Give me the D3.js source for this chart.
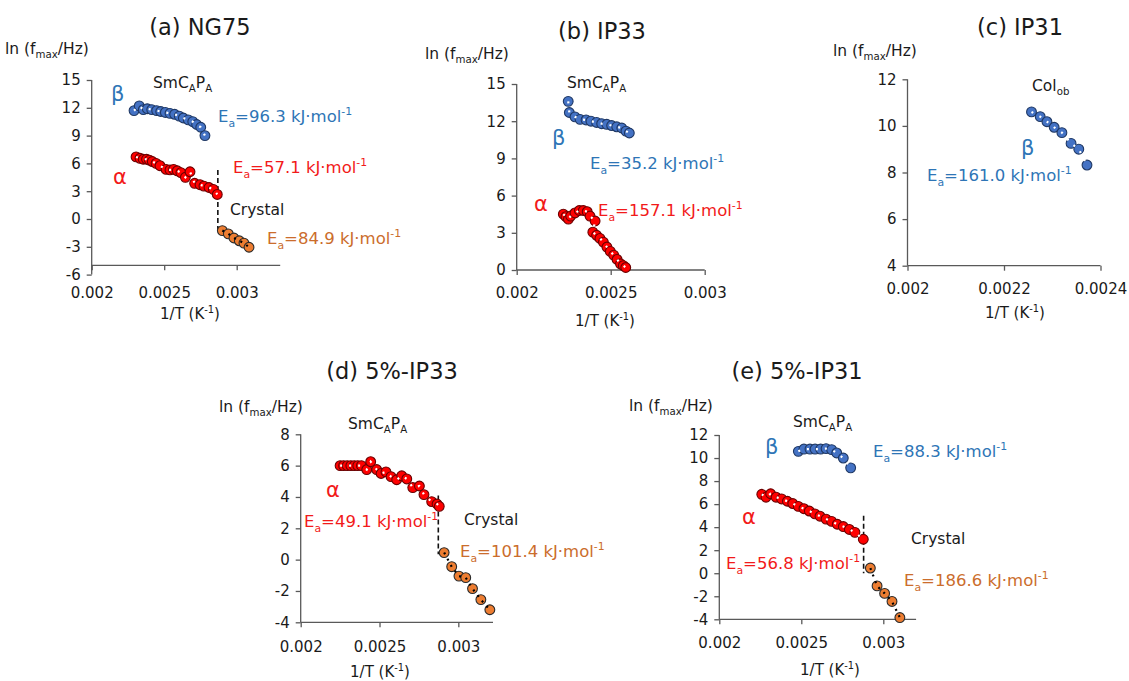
<!DOCTYPE html>
<html><head><meta charset="utf-8">
<script src="https://cdn.jsdelivr.net/npm/d3@7"></script>
<style>body{margin:0;background:#fff} svg{display:block}</style>
</head><body>
<svg id="chart" width="1129" height="681"></svg>
<script>
// ---------- DATA ----------
// (a) NG75
const aBetaX  = [0.002292,0.002328,0.002356,0.002383,0.002414,0.002448,0.002476,0.002508,0.00254,0.002572,0.002604,0.002632,0.002666,0.002697,0.002724,0.002752,0.002781];
const aBetaY  = [11.7,12.2,11.8,11.9,11.8,11.7,11.6,11.5,11.4,11.3,11.1,10.9,10.7,10.5,10.2,9.9,9.0];
const aAlphaX = [0.002306,0.002333,0.002355,0.002378,0.002398,0.002418,0.002444,0.002471,0.002513,0.00254,0.002565,0.00259,0.002615,0.002646,0.002678,0.00271,0.002747,0.002774,0.002809,0.002839,0.002866];
const aAlphaY = [6.7,6.55,6.45,6.45,6.35,6.2,6.0,5.75,5.35,5.3,5.35,5.2,5.0,4.5,5.1,3.85,3.7,3.55,3.4,3.2,2.65];
const aCrysX  = [0.002901,0.002942,0.002981,0.003018,0.00305,0.003085];
const aCrysY  = [-1.25,-1.6,-2.05,-2.35,-2.6,-3.05];
const aTransX = 0.00287, aTransY = [5.3,-1.5];
// (b) IP33
const bBetaX  = [0.002274,0.00228,0.00231,0.002337,0.002369,0.002395,0.002425,0.002452,0.002479,0.002505,0.002532,0.002559,0.002581,0.002599];
const bBetaY  = [13.6,12.7,12.35,12.15,12.1,12.0,11.9,11.8,11.75,11.65,11.55,11.45,11.2,11.05];
const bAlphaX = [0.002248,0.002262,0.002275,0.002287,0.00231,0.002333,0.002354,0.002375,0.00239,0.002417,0.002405,0.002425,0.002443,0.002461,0.00248,0.002498,0.002516,0.002534,0.002552,0.002567,0.00258];
const bAlphaY = [4.5,4.3,4.1,4.35,4.6,4.8,4.8,4.7,4.35,3.95,3.05,2.8,2.55,2.25,1.85,1.5,1.2,0.85,0.5,0.35,0.2];
// (c) IP31
const cBetaX  = [0.002257,0.002275,0.002289,0.002304,0.00232,0.002339,0.002355,0.002372];
const cBetaY  = [10.6,10.4,10.18,9.94,9.71,9.25,9.0,8.32];
// (d) 5%-IP33
const dAlphaX = [0.00225,0.002272,0.002295,0.002318,0.00234,0.002362,0.002385,0.002419,0.002444,0.002482,0.00251,0.002541,0.002573,0.002609,0.002641,0.002673,0.002711,0.002753,0.002782,0.002831,0.002865,0.002879];
const dAlphaY = [6.0,6.0,6.0,6.0,6.0,6.0,6.0,5.75,6.25,5.75,5.5,5.6,5.3,5.1,5.35,5.15,4.6,4.7,4.15,3.7,3.55,3.4];
const dCrysX  = [0.00291,0.002958,0.003004,0.003047,0.00309,0.003143,0.0032];
const dCrysY  = [0.45,-0.45,-1.05,-1.15,-1.85,-2.55,-3.2];
const dTransX = 0.002873, dTransY = [4.1,0.35];
// (e) 5%-IP31
const eBetaX  = [0.002482,0.002516,0.002553,0.002584,0.002618,0.002651,0.002685,0.002716,0.002756,0.002801];
const eBetaY  = [10.58,10.78,10.78,10.78,10.78,10.82,10.73,10.44,10.0,9.15];
const eAlphaX = [0.002259,0.002285,0.002313,0.002346,0.00238,0.002415,0.002448,0.002482,0.002516,0.002549,0.002583,0.002614,0.002651,0.002685,0.002719,0.002756,0.002793,0.002827,0.002878];
const eAlphaY = [6.85,6.6,6.9,6.6,6.45,6.25,6.05,5.8,5.6,5.4,5.15,4.95,4.7,4.5,4.25,4.05,3.8,3.55,2.95];
const eCrysX  = [0.002921,0.002962,0.003008,0.003053,0.003101];
const eCrysY  = [0.45,-1.1,-1.75,-2.45,-3.85];
const eTransX = 0.00288, eTransY = [5.0,0.0];

// ticks
const xTicksStd = [0.002,0.0025,0.003];
const xTickLabelsStd = ["0.002","0.0025","0.003"];
const xTicksC = [0.002,0.0022,0.0024];
const xTickLabelsC = ["0.002","0.0022","0.0024"];
const yTicksA = [-6,-3,0,3,6,9,12,15];
const yTicksB = [0,3,6,9,12,15];
const yTicksC = [4,6,8,10,12];
const yTicksD = [-4,-2,0,2,4,6,8];
const yTicksE = [-4,-2,0,2,4,6,8,10,12];

const titles = ["(a) NG75","(b) IP33","(c) IP31","(d) 5%-IP33","(e) 5%-IP31"];

// ---------- STYLE ----------
const FONT = "'DejaVu Sans', Verdana, sans-serif";
const COL = {
  blue:"#4472C4", blueS:"#1F3864",
  red:"#FF0000", redS:"#6b0000",
  orange:"#ED7D31", orangeS:"#2a2a2a",
  blueT:"#2E75B6", redT:"#F21A1A", orangeT:"#CB6D2C",
  axis:"#595959", text:"#1a1a1a"
};
const svg = d3.select("#chart");

function rich(g, x, cy, parts, size, color, anchor) {
  const t = g.append("text").attr("x", x).attr("y", cy + 0.36*size)
    .attr("font-family", FONT).attr("font-size", size).attr("fill", color)
    .attr("text-anchor", anchor || "start");
  let off = 0;
  parts.forEach(p => {
    const s = Array.isArray(p) ? p[0] : p;
    const kind = Array.isArray(p) ? p[1] : null;
    const target = kind === "sub" ? size*0.28 : kind === "sup" ? -size*0.42 : 0;
    t.append("tspan").attr("dy", target - off)
      .attr("font-size", kind ? size*0.66 : size).text(s);
    off = target;
  });
  return t;
}
const zip = (xs, ys) => xs.map((x,i) => ({x, y: ys[i]}));

const SER = {
  blue:  {fill:COL.blue, stroke:COL.blueS, dot:"#ffffff"},
  red:   {fill:COL.red, stroke:COL.redS, dot:"#ffffff"},
  orange:{fill:COL.orange, stroke:COL.orangeS, dot:"#000000"}
};

const panels = [
  {title:titles[0], tx:200, ty:27, xD:[0.002,0.0033], xR:[91.7,280.2], yD:[-6,15], yR:[274.6,80], xAt:-5, pad:17,
   xT:xTicksStd, xL:xTickLabelsStd, yT:yTicksA,
   series:[[aBetaX,aBetaY,"blue"],[aAlphaX,aAlphaY,"red"],[aCrysX,aCrysY,"orange"]],
   trans:[aTransX,aTransY], lnX:5, lnY:48, axT:[190,314],
   ann:[
     [153,82,[["SmC"],["A","sub"],["P"],["A","sub"]],15.5,COL.text],
     [111,93,["β"],21,COL.blueT],
     [218,116,[["E"],["a","sub"],["=96.3 kJ·mol"],["-1","sup"]],16.5,COL.blueT],
     [113,176,["α"],21,COL.redT],
     [233,167,[["E"],["a","sub"],["=57.1 kJ·mol"],["-1","sup"]],16.5,COL.redT],
     [230,209,["Crystal"],15.5,COL.text],
     [267,238,[["E"],["a","sub"],["=84.9 kJ·mol"],["-1","sup"]],16.5,COL.orangeT]
   ]},
  {title:titles[1], tx:602, ty:31, xD:[0.002,0.003], xR:[516.7,704.7], yD:[0,15], yR:[270,84], xAt:0, pad:12,
   xT:xTicksStd, xL:xTickLabelsStd, yT:yTicksB,
   series:[[bBetaX,bBetaY,"blue"],[bAlphaX,bAlphaY,"red"]],
   trans:null, lnX:425, lnY:53, axT:[605,321],
   ann:[
     [567,82,[["SmC"],["A","sub"],["P"],["A","sub"]],15.5,COL.text],
     [552,137,["β"],21,COL.blueT],
     [590,163,[["E"],["a","sub"],["=35.2 kJ·mol"],["-1","sup"]],16.5,COL.blueT],
     [534,203,["α"],21,COL.redT],
     [598,210,[["E"],["a","sub"],["=157.1 kJ·mol"],["-1","sup"]],16.5,COL.redT]
   ]},
  {title:titles[2], tx:1020, ty:27, xD:[0.002,0.0024], xR:[907.5,1100.5], yD:[4,12], yR:[265.7,79.3], xAt:4, pad:13,
   xT:xTicksC, xL:xTickLabelsC, yT:yTicksC,
   series:[[cBetaX,cBetaY,"blue"]],
   trans:null, lnX:833, lnY:50, axT:[1015,313],
   ann:[
     [1032,85,[["Col"],["ob","sub"]],15.5,COL.text],
     [1021,147,["β"],21,COL.blueT],
     [927,175,[["E"],["a","sub"],["=161.0 kJ·mol"],["-1","sup"]],16.5,COL.blueT]
   ]},
  {title:titles[3], tx:392, ty:371, xD:[0.002,0.00322], xR:[300.7,493], yD:[-4,8], yR:[622.3,434.3], xAt:-4, pad:14,
   xT:xTicksStd, xL:xTickLabelsStd, yT:yTicksD,
   series:[[dAlphaX,dAlphaY,"red"],[dCrysX,dCrysY,"orange"]],
   trans:[dTransX,dTransY], lnX:219, lnY:406, axT:[380,672],
   ann:[
     [348,423,[["SmC"],["A","sub"],["P"],["A","sub"]],15.5,COL.text],
     [326,489,["α"],21,COL.redT],
     [304,521,[["E"],["a","sub"],["=49.1 kJ·mol"],["-1","sup"]],16.5,COL.redT],
     [464,519,["Crystal"],15.5,COL.text],
     [460,551,[["E"],["a","sub"],["=101.4 kJ·mol"],["-1","sup"]],16.5,COL.orangeT]
   ]},
  {title:titles[4], tx:797, ty:371, xD:[0.002,0.0032], xR:[719.3,916.1], yD:[-4,12], yR:[619.3,435], xAt:-4, pad:13,
   xT:xTicksStd, xL:xTickLabelsStd, yT:yTicksE,
   series:[[eBetaX,eBetaY,"blue"],[eAlphaX,eAlphaY,"red"],[eCrysX,eCrysY,"orange"]],
   trans:[eTransX,eTransY], lnX:629, lnY:405, axT:[830,670],
   ann:[
     [793,421,[["SmC"],["A","sub"],["P"],["A","sub"]],15.5,COL.text],
     [765,446,["β"],21,COL.blueT],
     [873,451,[["E"],["a","sub"],["=88.3 kJ·mol"],["-1","sup"]],16.5,COL.blueT],
     [742,516,["α"],21,COL.redT],
     [726,563,[["E"],["a","sub"],["=56.8 kJ·mol"],["-1","sup"]],16.5,COL.redT],
     [911,538,["Crystal"],15.5,COL.text],
     [904,580,[["E"],["a","sub"],["=186.6 kJ·mol"],["-1","sup"]],16.5,COL.orangeT]
   ]}
];

panels.forEach(P => {
  const g = svg.append("g");
  const x = d3.scaleLinear().domain(P.xD).range(P.xR);
  const y = d3.scaleLinear().domain(P.yD).range(P.yR);
  const x0 = P.xR[0], xAxisY = y(P.xAt);

  // title
  g.append("text").attr("x", P.tx).attr("y", P.ty + 0.36*22.5).attr("text-anchor","middle")
    .attr("font-family", FONT).attr("font-size", 22.5).attr("fill", COL.text).text(P.title);
  // y label
  rich(g, P.lnX, P.lnY, [["ln (f"],["max","sub"],["/Hz)"]], 15.5, COL.text);

  // y axis
  const yAxis = d3.axisLeft(y).tickValues(P.yT).tickSize(5).tickPadding(6).tickFormat(d => String(d));
  const ya = g.append("g").attr("transform", `translate(${x0},0)`).call(yAxis);
  ya.select(".domain").attr("stroke", COL.axis).attr("stroke-width", 1.3).attr("d", `M-0,${P.yR[0]}V${P.yR[1]}`);
  ya.selectAll(".tick line").attr("stroke", COL.axis).attr("stroke-width", 1.3);
  ya.selectAll(".tick text").attr("font-family", FONT).attr("font-size", 15).attr("fill", COL.text);

  // x axis
  const xAxis = d3.axisBottom(x).tickValues(P.xT).tickSize(5).tickPadding(P.pad)
    .tickFormat((d,i) => P.xL[i]);
  const xa = g.append("g").attr("transform", `translate(0,${xAxisY})`).call(xAxis);
  xa.select(".domain").attr("stroke", COL.axis).attr("stroke-width", 1.3).attr("d", `M${P.xR[0]},0H${P.xR[1]}`);
  xa.selectAll(".tick line").attr("stroke", COL.axis).attr("stroke-width", 1.3);
  xa.selectAll(".tick text").attr("font-family", FONT).attr("font-size", 15).attr("fill", COL.text);

  // x axis title
  rich(g, P.axT[0], P.axT[1], [["1/T (K"],["-1","sup"],[")"]], 15, COL.text, "middle");

  // transition dashed line
  if (P.trans) {
    g.append("line").attr("x1", x(P.trans[0])).attr("x2", x(P.trans[0]))
      .attr("y1", y(P.trans[1][0])).attr("y2", y(P.trans[1][1]))
      .attr("stroke", "#111").attr("stroke-width", 1.6).attr("stroke-dasharray", "5,3");
  }

  // series
  P.series.forEach(([xs, ys, key]) => {
    const st = SER[key];
    const pts = zip(xs, ys);
    g.append("g").selectAll("circle").data(pts).join("circle")
      .attr("cx", d => x(d.x)).attr("cy", d => y(d.y)).attr("r", 4.9)
      .attr("fill", st.fill).attr("stroke", st.stroke).attr("stroke-width", 1.1);
    const line = d3.line().x(d => x(d.x)).y(d => y(d.y));
    g.append("path").attr("d", line(pts)).attr("fill", "none")
      .attr("stroke", st.dot).attr("stroke-width", 2.2)
      .attr("stroke-dasharray", key === "orange" ? "2,5" : "2,7");
  });

  // annotations
  P.ann.forEach(([ax, ay, parts, size, color]) => rich(g, ax, ay, parts, size, color));
});
</script>
</body></html>
